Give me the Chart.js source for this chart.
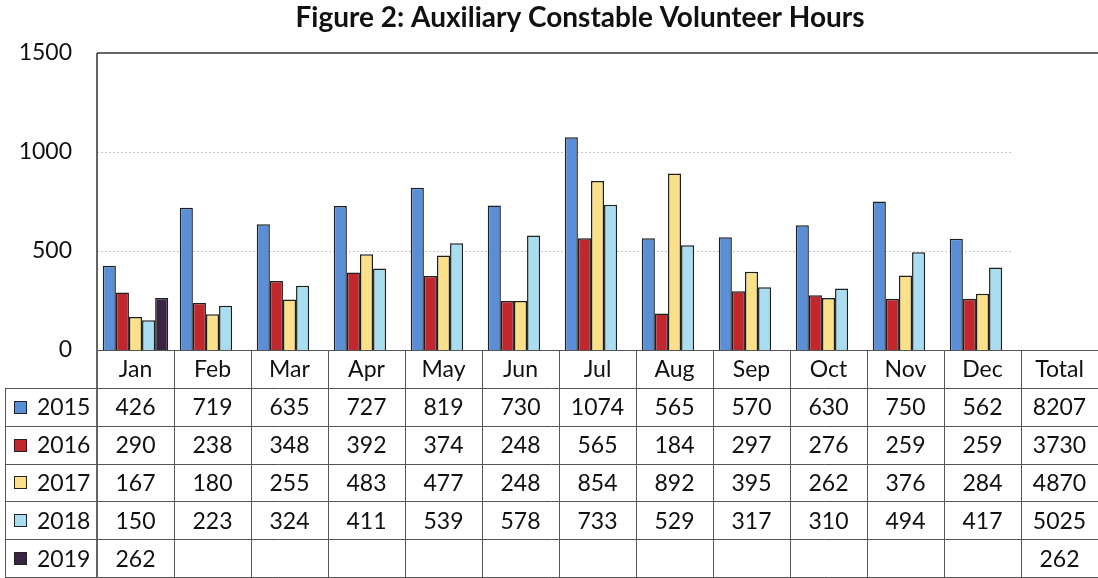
<!DOCTYPE html>
<html lang="en">
<head>
<meta charset="UTF-8">
<title>Auxiliary Constable Volunteer Hours</title>
<script src="https://cdn.jsdelivr.net/npm/chart.js@4.4.1/dist/chart.umd.min.js"></script>
<style>
  html, body { margin: 0; padding: 0; background: #fff; }
  #wrap { width: 1098px; height: 578px; }
</style>
</head>
<body>
<div id="wrap"><canvas id="myChart" width="1098" height="578"></canvas></div>
<script>
  // data
  const months = ['Jan', 'Feb', 'Mar', 'Apr', 'May', 'Jun', 'Jul', 'Aug', 'Sep', 'Oct', 'Nov', 'Dec'];
  const categories = months.concat(['Total']);
  const years = ['2015', '2016', '2017', '2018', '2019'];
  const hours2015 = [426, 719, 635, 727, 819, 730, 1074, 565, 570, 630, 750, 562];
  const hours2016 = [290, 238, 348, 392, 374, 248, 565, 184, 297, 276, 259, 259];
  const hours2017 = [167, 180, 255, 483, 477, 248, 854, 892, 395, 262, 376, 284];
  const hours2018 = [150, 223, 324, 411, 539, 578, 733, 529, 317, 310, 494, 417];
  const hours2019 = [262];
  const totals = [8207, 3730, 4870, 5025, 262];
  const yTicks = [0, 500, 1000, 1500];

  const colors = ['#5a8fd8', '#c1272d', '#fbe08a', '#a9def0', '#3a2444'];
  const series = [hours2015, hours2016, hours2017, hours2018, hours2019];
  const FONT = 'Lato, Carlito, "Open Sans", sans-serif';

  // pad each series to the 13 table columns (Total column has no bar)
  function padded(arr) {
    const out = [];
    for (let i = 0; i < categories.length; i++) out.push(i < arr.length && i < 12 ? arr[i] : null);
    return out;
  }

  const tablePlugin = {
    id: 'dataTable',
    beforeDatasetsDraw(chart) {
      const ctx = chart.ctx;
      const area = chart.chartArea;
      const x = chart.scales.x;
      const y = chart.scales.y;
      const step = x.getPixelForValue(1) - x.getPixelForValue(0);
      const gridEnd = x.getPixelForValue(11) + step / 2 - 10;
      ctx.save();
      ctx.strokeStyle = '#c8c8c8';
      ctx.lineWidth = 1;
      ctx.setLineDash([2, 2]);
      yTicks.forEach(function (t) {
        if (t === 0 || t === 1500) return;
        const py = Math.round(y.getPixelForValue(t)) + 0.5;
        ctx.beginPath();
        ctx.moveTo(area.left, py);
        ctx.lineTo(gridEnd, py);
        ctx.stroke();
      });
      ctx.restore();
    },
    afterDraw(chart) {
      const ctx = chart.ctx;
      const area = chart.chartArea;
      const x = chart.scales.x;
      const step = x.getPixelForValue(1) - x.getPixelForValue(0);
      const bottom = chart.height - 1;
      const top = area.bottom;
      const rowH = (bottom - top) / 6;
      const keyLeft = 5;

      ctx.save();
      // title
      ctx.fillStyle = '#111';
      ctx.font = 'bold 28px ' + FONT;
      ctx.textAlign = 'center';
      ctx.textBaseline = 'middle';
      ctx.fillText('Figure 2: Auxiliary Constable Volunteer Hours', 580, 18);

      // plot frame: top and left
      ctx.strokeStyle = '#333';
      ctx.lineWidth = 1.5;
      ctx.beginPath();
      ctx.moveTo(area.left, area.top);
      ctx.lineTo(chart.width, area.top);
      ctx.moveTo(area.left, area.top);
      ctx.lineTo(area.left, bottom);
      ctx.stroke();

      // table grid
      ctx.strokeStyle = '#555';
      ctx.lineWidth = 1;
      for (let r = 0; r <= 6; r++) {
        const py = Math.round(top + r * rowH) + 0.5;
        ctx.beginPath();
        ctx.moveTo(r === 0 ? area.left : keyLeft, py);
        ctx.lineTo(chart.width, py);
        ctx.stroke();
      }
      for (let c = 1; c <= categories.length; c++) {
        const px = Math.round(x.getPixelForValue(c) - step / 2) + 0.5;
        ctx.beginPath();
        ctx.moveTo(px, top);
        ctx.lineTo(px, bottom);
        ctx.stroke();
      }
      ctx.beginPath();
      ctx.moveTo(keyLeft + 0.5, top + rowH);
      ctx.lineTo(keyLeft + 0.5, bottom);
      ctx.stroke();

      // header row
      ctx.fillStyle = '#111';
      ctx.font = '23px ' + FONT;
      ctx.textAlign = 'center';
      categories.forEach(function (c, i) {
        ctx.fillText(c, x.getPixelForValue(i), top + rowH / 2 + 1);
      });

      // series rows
      years.forEach(function (yr, r) {
        const cy = top + (r + 1.5) * rowH + 1;
        // legend key
        ctx.fillStyle = colors[r];
        ctx.fillRect(14, Math.round(cy - 7), 13, 13);
        ctx.strokeStyle = '#222';
        ctx.strokeRect(14.5, Math.round(cy - 7) + 0.5, 12, 12);
        ctx.fillStyle = '#111';
        ctx.textAlign = 'left';
        ctx.fillText(yr, 37, cy);
        ctx.textAlign = 'center';
        series[r].forEach(function (v, i) {
          ctx.fillText(String(v), x.getPixelForValue(i), cy);
        });
        ctx.fillText(String(totals[r]), x.getPixelForValue(12), cy);
      });
      ctx.restore();
    }
  };

  const ctx = document.getElementById('myChart').getContext('2d');
  const myChart = new Chart(ctx, {
    type: 'bar',
    data: {
      labels: categories,
      datasets: years.map(function (yr, i) {
        return {
          label: yr,
          data: padded(series[i]),
          backgroundColor: colors[i],
          borderColor: '#1f1f1f',
          borderWidth: 1.5,
          borderSkipped: 'bottom'
        };
      })
    },
    options: {
      responsive: false,
      animation: false,
      layout: { padding: { top: 53, bottom: 228, left: 0, right: 0 } },
      datasets: { bar: { categoryPercentage: 0.85, barPercentage: 1.0 } },
      scales: {
        x: { display: false },
        y: {
          min: 0,
          max: 1500,
          afterFit: function (scale) { scale.width = 97; },
          afterBuildTicks: function (scale) {
            scale.ticks = yTicks.map(function (v) { return { value: v }; });
          },
          grid: { display: false },
          border: { display: false },
          ticks: {
            padding: 17,
            color: '#111',
            font: { family: FONT, size: 23 },
            callback: function (v) { return String(v); }
          }
        }
      },
      plugins: {
        legend: { display: false },
        title: { display: false },
        tooltip: { enabled: false }
      }
    },
    plugins: [tablePlugin]
  });
</script>
</body>
</html>
